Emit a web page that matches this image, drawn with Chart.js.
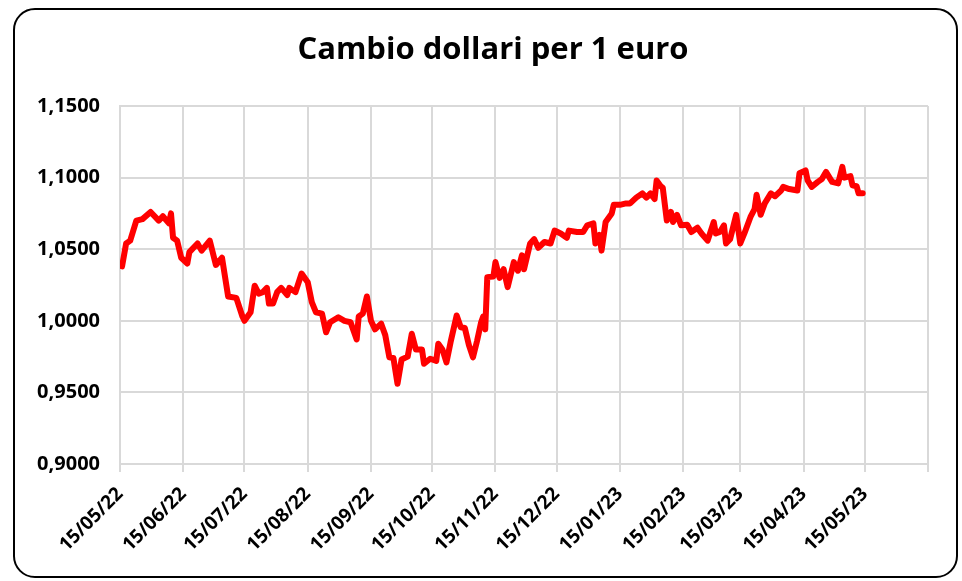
<!DOCTYPE html>
<html>
<head>
<meta charset="utf-8">
<script src="https://cdn.jsdelivr.net/npm/chart.js@4"></script>
<style>
  html, body { margin: 0; padding: 0; background: #fff; }
  #wrap { position: relative; width: 962px; height: 581px; }
  #box {
    position: absolute; left: 13px; top: 8px; width: 945px; height: 570px;
    box-sizing: border-box; border: 2px solid #000; border-radius: 22px;
  }
  canvas { position: absolute; left: 0; top: 0; }
</style>
</head>
<body>
<div id="wrap">
  <div id="box"></div>
  <canvas id="grafico" width="962" height="581"></canvas>
</div>
<script>
// dati
const titolo = 'Cambio dollari per 1 euro'

const dates = [
  '2022-05-16','2022-05-18','2022-05-20','2022-05-23','2022-05-26','2022-05-30','2022-06-03','2022-06-05',
  '2022-06-08','2022-06-09','2022-06-10','2022-06-12','2022-06-14','2022-06-17','2022-06-18','2022-06-22',
  '2022-06-24','2022-06-28','2022-07-01','2022-07-04','2022-07-07','2022-07-11','2022-07-14','2022-07-15',
  '2022-07-18','2022-07-20','2022-07-22','2022-07-24','2022-07-26','2022-07-27','2022-07-29','2022-07-31',
  '2022-08-02','2022-08-05','2022-08-06','2022-08-09','2022-08-12','2022-08-15','2022-08-17','2022-08-19',
  '2022-08-22','2022-08-24','2022-08-26','2022-08-30','2022-09-02','2022-09-05','2022-09-08','2022-09-09',
  '2022-09-11','2022-09-13','2022-09-15','2022-09-17','2022-09-20','2022-09-22','2022-09-24','2022-09-26',
  '2022-09-28','2022-09-30','2022-10-03','2022-10-05','2022-10-07','2022-10-10','2022-10-11','2022-10-14',
  '2022-10-17','2022-10-18','2022-10-20','2022-10-22','2022-10-24','2022-10-27','2022-10-29','2022-10-31',
  '2022-11-02','2022-11-04','2022-11-06','2022-11-08','2022-11-09','2022-11-10','2022-11-11','2022-11-14',
  '2022-11-15','2022-11-17','2022-11-19','2022-11-21','2022-11-24','2022-11-26','2022-11-28','2022-11-29',
  '2022-12-02','2022-12-04','2022-12-06','2022-12-09','2022-12-12','2022-12-14','2022-12-17','2022-12-20',
  '2022-12-21','2022-12-25','2022-12-28','2022-12-30','2023-01-02','2023-01-03','2023-01-05','2023-01-06',
  '2023-01-08','2023-01-11','2023-01-12','2023-01-15','2023-01-18','2023-01-20','2023-01-23','2023-01-26',
  '2023-01-28','2023-01-30','2023-02-01','2023-02-02','2023-02-04','2023-02-05','2023-02-07','2023-02-09',
  '2023-02-10','2023-02-12','2023-02-14','2023-02-17','2023-02-19','2023-02-22','2023-02-24','2023-02-27',
  '2023-03-02','2023-03-03','2023-03-05','2023-03-07','2023-03-08','2023-03-10','2023-03-13','2023-03-15',
  '2023-03-17','2023-03-20','2023-03-22','2023-03-23','2023-03-25','2023-03-27','2023-03-30','2023-04-01',
  '2023-04-04','2023-04-05','2023-04-08','2023-04-12','2023-04-13','2023-04-16','2023-04-17','2023-04-19',
  '2023-04-22','2023-04-24','2023-04-26','2023-04-29','2023-05-02','2023-05-04','2023-05-05','2023-05-08',
  '2023-05-09','2023-05-11','2023-05-12','2023-05-14'
]

const cambio = [
  1.038, 1.054, 1.056, 1.070, 1.071, 1.076, 1.070, 1.073,
  1.068, 1.075, 1.058, 1.056, 1.044, 1.040, 1.048, 1.054,
  1.049, 1.056, 1.039, 1.044, 1.017, 1.016, 1.003, 1.000,
  1.006, 1.0245, 1.019, 1.020, 1.023, 1.012, 1.012, 1.020,
  1.023, 1.018, 1.023, 1.020, 1.033, 1.027, 1.013, 1.006,
  1.005, 0.992, 0.999, 1.0025, 1.000, 0.999, 0.987, 1.003,
  1.005, 1.017, 1.000, 0.994, 0.998, 0.990, 0.9745, 0.974,
  0.956, 0.973, 0.975, 0.991, 0.980, 0.980, 0.970, 0.9735,
  0.972, 0.984, 0.980, 0.971, 0.985, 1.0037, 0.9955, 0.995,
  0.983, 0.9745, 0.986, 0.999, 1.003, 0.994, 1.0305, 1.031,
  1.041, 1.030, 1.036, 1.0235, 1.041, 1.035, 1.0457, 1.036,
  1.054, 1.057, 1.051, 1.055, 1.054, 1.063, 1.061, 1.058,
  1.063, 1.062, 1.062, 1.0667, 1.068, 1.054, 1.060, 1.049,
  1.069, 1.075, 1.081, 1.081, 1.082, 1.082, 1.086, 1.089,
  1.086, 1.089, 1.085, 1.098, 1.094, 1.093, 1.070, 1.076,
  1.069, 1.074, 1.0667, 1.067, 1.062, 1.065, 1.061, 1.056,
  1.069, 1.061, 1.062, 1.0667, 1.054, 1.057, 1.074, 1.054,
  1.061, 1.0725, 1.078, 1.088, 1.074, 1.082, 1.089, 1.087,
  1.091, 1.0935, 1.092, 1.091, 1.103, 1.105, 1.098, 1.0935,
  1.097, 1.099, 1.104, 1.097, 1.096, 1.1075, 1.100, 1.101,
  1.0946, 1.094, 1.089, 1.089
]

const tickLabels = ['15/05/22','15/06/22','15/07/22','15/08/22','15/09/22','15/10/22','15/11/22',
  '15/12/22','15/01/23','15/02/23','15/03/23','15/04/23','15/05/23']
const fineAsse = '15/06/23'

const yMin = 0.9
const yMax = 1.15
const yStep = 0.05

function parseLabel(s) {
  const [d, m, y] = s.split('/').map(Number)
  return Date.UTC(2000 + y, m - 1, d)
}

const punti = dates.map((d, i) => ({ x: Date.parse(d), y: cambio[i] }))
const tickValues = tickLabels.map(parseLabel).concat([parseLabel(fineAsse)])

const grigio = '#d9d9d9'
const fontBase = { family: "'Open Sans', sans-serif", weight: 'bold' }

// titolo disegnato a mano, centrato come nell'originale
const titoloPlugin = {
  id: 'titolo',
  afterDraw(chart) {
    const c = chart.ctx
    c.save()
    c.font = "bold 31px 'Open Sans', sans-serif"
    c.fillStyle = '#000'
    c.textAlign = 'center'
    c.textBaseline = 'middle'
    c.fillText(titolo, 493, 50)
    c.restore()
  }
}

const ctx = document.getElementById('grafico')

new Chart(ctx, {
  type: 'line',
  data: {
    datasets: [{
      data: punti,
      borderColor: '#ff0000',
      borderWidth: 6,
      pointRadius: 0,
      tension: 0,
      borderJoinStyle: 'round',
      borderCapStyle: 'round'
    }]
  },
  options: {
    responsive: false,
    animation: false,
    layout: { padding: { left: 12, right: 34, top: 106, bottom: 0 } },
    plugins: {
      legend: { display: false },
      tooltip: { enabled: false },
      title: { display: false }
    },
    scales: {
      x: {
        type: 'linear',
        min: parseLabel(tickLabels[0]),
        max: parseLabel(fineAsse),
        afterBuildTicks: s => { s.ticks = tickValues.map(v => ({ value: v })) },
        afterFit: s => { s.height = 117 },
        grid: { color: grigio, lineWidth: 2, tickLength: 8 },
        border: { color: grigio, width: 2 },
        ticks: {
          autoSkip: false,
          maxRotation: 45,
          minRotation: 45,
          padding: 11,
          color: '#000',
          font: { ...fontBase, size: 19 },
          callback: (v, i) => tickLabels[i] || ''
        }
      },
      y: {
        min: yMin,
        max: yMax,
        afterFit: s => { s.width = 108 },
        grid: { color: grigio, lineWidth: 2, drawTicks: false },
        border: { color: grigio, width: 2 },
        ticks: {
          stepSize: yStep,
          padding: 20,
          color: '#000',
          font: { ...fontBase, size: 20 },
          callback: v => v.toFixed(4).replace('.', ',')
        }
      }
    }
  },
  plugins: [titoloPlugin]
})
</script>
</body>
</html>
